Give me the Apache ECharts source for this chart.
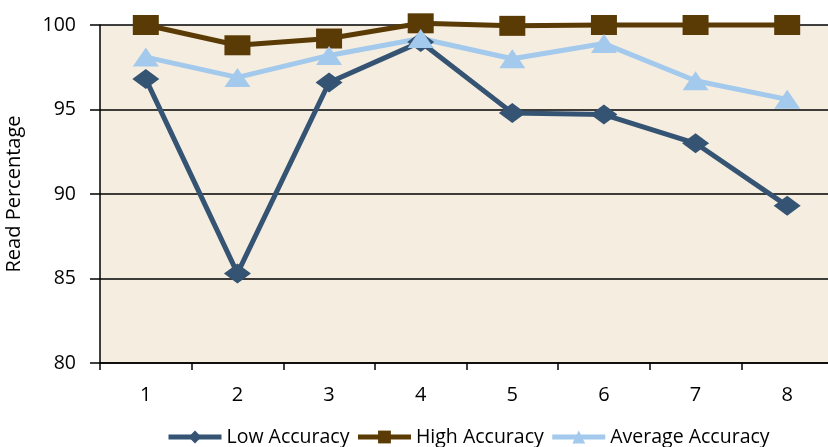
<!DOCTYPE html>
<html>
<head>
<meta charset="utf-8">
<script src="https://cdn.jsdelivr.net/npm/echarts@6/dist/echarts.min.js"></script>
<style>
  html, body { margin: 0; padding: 0; background: #ffffff; }
  #chart { width: 828px; height: 447px; }
</style>
</head>
<body>
<div id="chart"></div>
<script>
// Read percentage per run for the three accuracy levels
const categories = ['1', '2', '3', '4', '5', '6', '7', '8'];
const lowAccuracy = [96.8, 85.3, 96.6, 99.0, 94.8, 94.7, 93.0, 89.3];
const highAccuracy = [100.0, 98.8, 99.2, 100.1, 99.95, 100.0, 100.0, 100.0];
const averageAccuracy = [98.1, 96.9, 98.2, 99.2, 98.0, 98.9, 96.7, 95.6];
const yTicks = { min: 80, max: 100, step: 5 };

const FONT = '"Open Sans", "Noto Sans", sans-serif';

const chart = echarts.init(document.getElementById('chart'), null, { renderer: 'canvas' });

function lineSeries(name, data, color, symbol, size) {
  return {
    name: name,
    type: 'line',
    data: data,
    clip: false,
    symbol: symbol,
    symbolSize: size,
    lineStyle: { color: color, width: 5 },
    itemStyle: { color: color },
    emphasis: { disabled: true }
  };
}

chart.setOption({
  animation: false,
  grid: {
    left: 100,
    top: 25,
    width: 733,
    height: 338,
    outerBoundsMode: 'none',
    containLabel: false,
    show: true,
    backgroundColor: '#F5EDDF',
    borderWidth: 0
  },
  legend: {
    top: 422,
    left: 161,
    itemWidth: 53,
    itemHeight: 16,
    itemGap: 6,
    lineStyle: { width: 5 },
    textStyle: { fontFamily: FONT, fontSize: 19.5, color: '#000' },
    data: ['Low Accuracy', 'High Accuracy', 'Average Accuracy']
  },
  xAxis: {
    type: 'category',
    data: categories,
    boundaryGap: true,
    axisLine: { lineStyle: { color: '#000', width: 1.5 } },
    axisTick: { show: true, length: 7, lineStyle: { color: '#000', width: 1.5 } },
    axisLabel: { fontFamily: FONT, fontSize: 20, color: '#000', margin: 22 },
    splitLine: { show: false }
  },
  yAxis: {
    type: 'value',
    min: yTicks.min,
    max: yTicks.max,
    interval: yTicks.step,
    name: 'Read Percentage',
    nameLocation: 'middle',
    nameGap: 76,
    nameTextStyle: { fontFamily: FONT, fontSize: 20, color: '#000' },
    axisLine: { show: true, lineStyle: { color: '#000', width: 1.5 } },
    axisTick: { show: true, length: 10, lineStyle: { color: '#000', width: 1.5 } },
    axisLabel: { fontFamily: FONT, fontSize: 19.5, color: '#000', margin: 24 },
    splitLine: { show: true, lineStyle: { color: '#000', width: 1.5 } }
  },
  series: [
    lineSeries('Low Accuracy', lowAccuracy, '#355372', 'diamond', [27, 20]),
    lineSeries('High Accuracy', highAccuracy, '#5A3A05', 'rect', [26, 20]),
    lineSeries('Average Accuracy', averageAccuracy, '#A3C9EC', 'triangle', [26, 19])
  ]
});
</script>
</body>
</html>
